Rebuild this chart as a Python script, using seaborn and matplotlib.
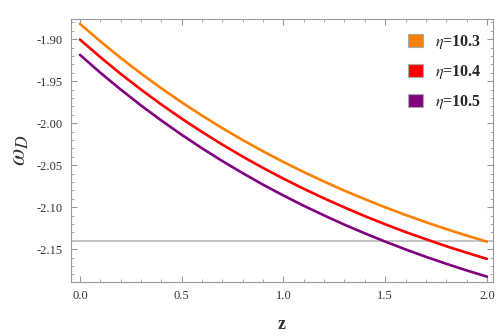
import numpy as np
import pandas as pd
import matplotlib
matplotlib.use("Agg")
import matplotlib.pyplot as plt
from matplotlib.patches import Patch
from matplotlib.ticker import MultipleLocator, FormatStrFormatter
import seaborn as sns

z = [0.0, 0.1, 0.2, 0.3, 0.4, 0.5, 0.6, 0.7, 0.8, 0.9, 1.0,
     1.1, 1.2, 1.3, 1.4, 1.5, 1.6, 1.7, 1.8, 1.9, 2.0]
w_103 = [-1.8818, -1.9026, -1.9223, -1.9409, -1.9585, -1.9752, -1.9910, -2.0060,
         -2.0201, -2.0335, -2.0462, -2.0582, -2.0695, -2.0803, -2.0904, -2.1001,
         -2.1092, -2.1178, -2.1260, -2.1337, -2.1410]
w_104 = [-1.9005, -1.9214, -1.9413, -1.9600, -1.9778, -1.9946, -2.0105, -2.0255,
         -2.0398, -2.0533, -2.0660, -2.0781, -2.0895, -2.1003, -2.1106, -2.1203,
         -2.1295, -2.1381, -2.1464, -2.1541, -2.1615]
w_105 = [-1.9187, -1.9399, -1.9599, -1.9789, -1.9968, -2.0138, -2.0299, -2.0451,
         -2.0595, -2.0732, -2.0861, -2.0983, -2.1098, -2.1208, -2.1311, -2.1409,
         -2.1502, -2.1590, -2.1673, -2.1752, -2.1826]
labels = [r"$\eta$=10.3", r"$\eta$=10.4", r"$\eta$=10.5"]
colors = ["#FF8000", "#FF0000", "#800080"]
hline_value = -2.14

df = pd.concat([
    pd.DataFrame({"z": z, "w": w, "eta": lab})
    for w, lab in zip([w_103, w_104, w_105], labels)
])

sns.set_style("ticks")
plt.rcParams["font.family"] = ["Liberation Serif", "DejaVu Serif"]
plt.rcParams["mathtext.fontset"] = "stix"

fig = plt.figure(figsize=(4.98, 3.36), dpi=100)
ax = fig.add_axes([0.1426, 0.1607, 0.8474, 0.7828])

ax.axhline(hline_value, color="#BBBBBB", lw=1.2, zorder=1)
sns.lineplot(data=df, x="z", y="w", hue="eta", palette=colors, lw=1.9,
             ax=ax, legend=False, zorder=3)

ax.set_xlim(-0.044, 2.03)
ax.set_ylim(-2.189, -1.876)
ax.xaxis.set_major_locator(MultipleLocator(0.5))
ax.xaxis.set_minor_locator(MultipleLocator(0.1))
ax.yaxis.set_major_locator(MultipleLocator(0.05))
ax.yaxis.set_minor_locator(MultipleLocator(0.01))
ax.xaxis.set_major_formatter(FormatStrFormatter("%.1f"))
ax.yaxis.set_major_formatter(FormatStrFormatter("%.2f"))
ax.tick_params(which="both", direction="in", top=True, right=True,
               color="#999999", labelsize=9, labelcolor="#333333")
ax.tick_params(which="major", length=4, width=0.8, pad=6)
ax.tick_params(which="minor", length=2.2, width=0.6)
for s in ax.spines.values():
    s.set_color("#999999")
    s.set_linewidth(0.8)

ax.set_xlabel("z", fontsize=13, fontweight="bold", color="#333333", labelpad=10)
ax.set_ylabel(r"$\omega_D$", fontsize=18, color="#333333", labelpad=4)

handles = [Patch(facecolor=c, edgecolor="#AAAAAA", lw=0.8) for c in colors]
leg = ax.legend(handles, labels, loc="upper right", frameon=False,
                prop={"family": "Liberation Serif", "weight": "bold", "size": 11.5},
                handlelength=0.9, handleheight=0.9, handletextpad=0.8,
                labelspacing=0.75, borderaxespad=0.3, bbox_to_anchor=(1.0, 0.99))

fig.savefig("out.png", dpi=100)
